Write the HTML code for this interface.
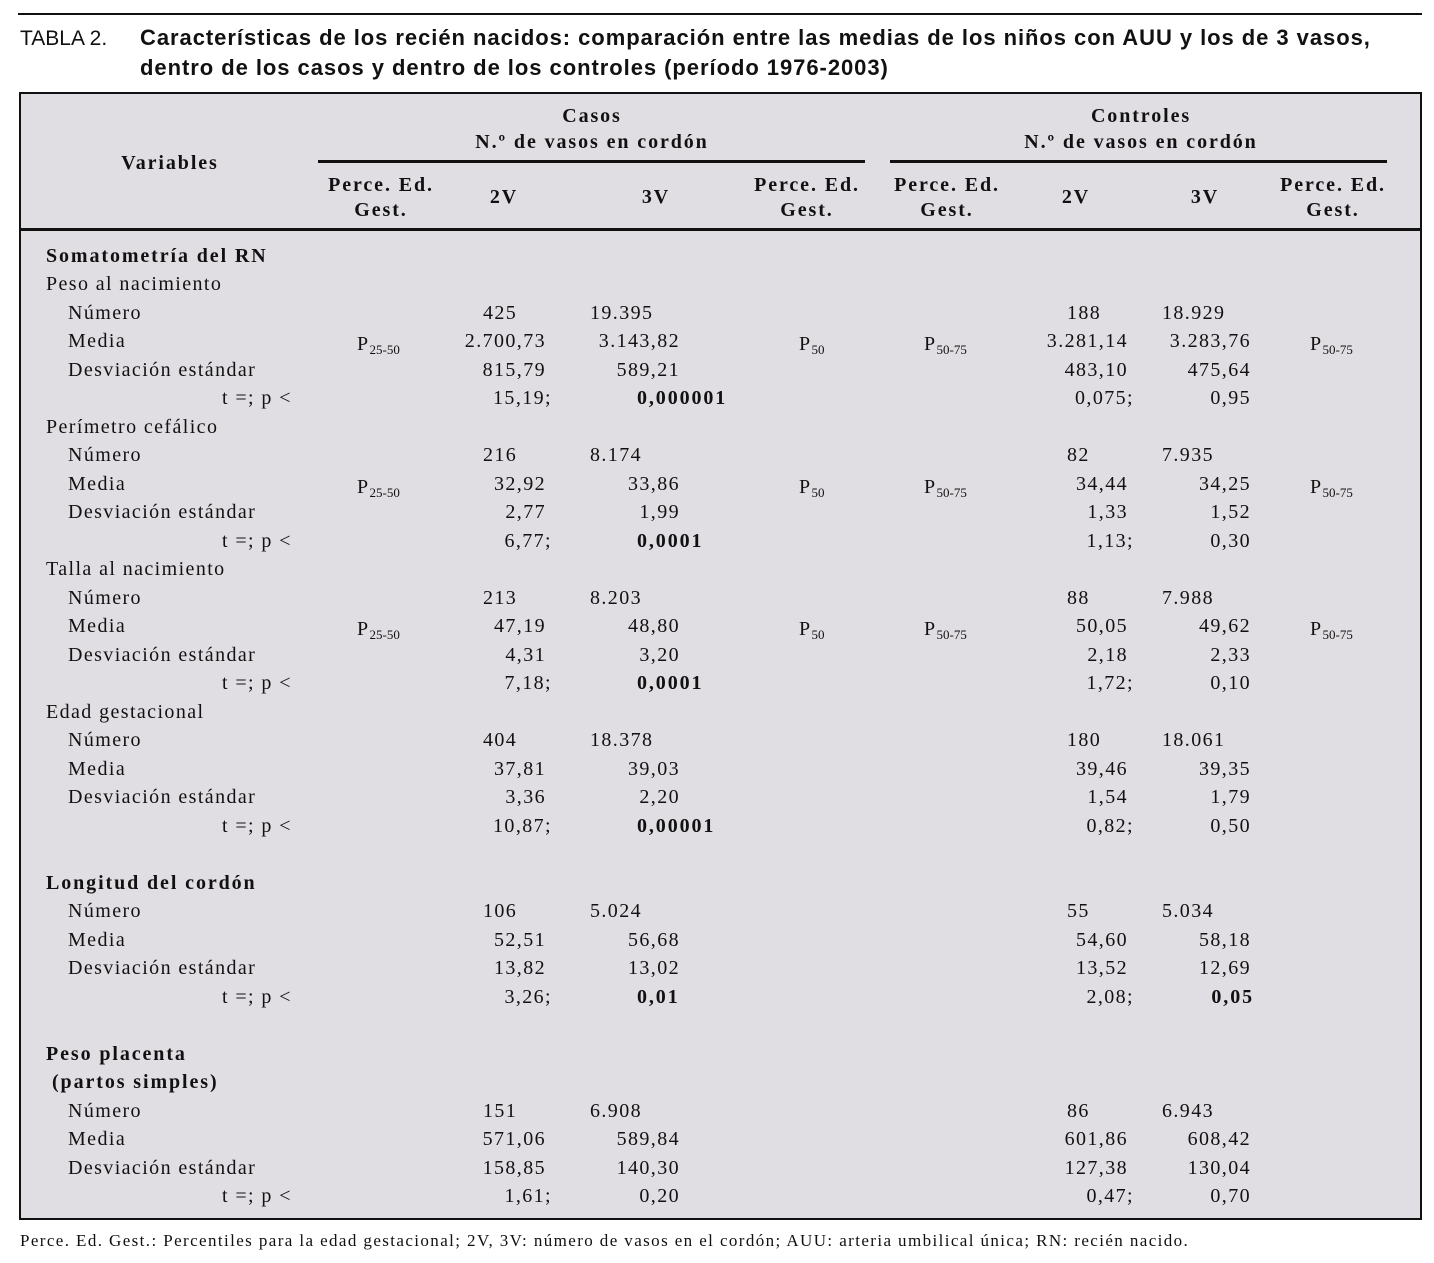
<!DOCTYPE html>
<html><head><meta charset="utf-8">
<style>
body{margin:0;width:1434px;height:1263px;background:#fff;position:relative;overflow:hidden;font-family:"Liberation Serif",serif;color:#111}
.t{position:absolute;white-space:nowrap;font-size:20px;line-height:24px;letter-spacing:1.4px}
.b{font-weight:bold;letter-spacing:1.9px}
.r{text-align:right}
.c{text-align:center}
sub{font-size:13px;vertical-align:-4px;letter-spacing:0}
</style></head><body>
<div style="position:absolute;left:18px;top:13px;width:1404px;height:2px;background:#111"></div>
<div class="t" style="left:20px;top:23px;font-family:'Liberation Sans',sans-serif;font-size:22px;line-height:30px;letter-spacing:0"><span style="font-size:21px">TABLA 2.</span><b style="position:absolute;left:120px;top:0;letter-spacing:0.95px">Características de los recién nacidos: comparación entre las medias de los niños con AUU y los de 3 vasos,</b><br><b style="position:absolute;left:120px;top:30px;letter-spacing:0.95px">dentro de los casos y dentro de los controles (período 1976-2003)</b></div>
<div style="position:absolute;left:19px;top:92px;width:1399px;height:1124px;border:2px solid #111;background:#e0dee2"></div>
<div style="position:absolute;left:21px;top:228px;width:1399px;height:3px;background:#111"></div>
<div style="position:absolute;left:318px;top:160px;width:547px;height:3px;background:#111"></div>
<div style="position:absolute;left:890px;top:160px;width:497px;height:3px;background:#111"></div>
<div class="t" style="left:20px;top:1229px;font-size:17px;letter-spacing:1.4px">Perce. Ed. Gest.: Percentiles para la edad gestacional; 2V, 3V: número de vasos en el cordón; AUU: arteria umbilical única; RN: recién nacido.</div>
<div id="tb"></div>
<script>
const tb=document.getElementById('tb');
function put(x,y,html,cls,name){
  const el=document.createElement('div');
  el.className='t '+(cls||'');
  el.innerHTML=html;
  
  
  el.style.top=(y-12)+'px';
  if((cls||'').includes('r')){el.style.right=(1434-x-1)+'px';}
  else if((cls||'').includes('c')){el.style.left=(x-150)+'px';el.style.width='300px';}
  else el.style.left=x+'px';
  tb.appendChild(el);
}
put(170,163,'Variables','b c','header-variables');
put(592,116,'Casos','b c','header-casos');
put(592,142,'N.º de vasos en cordón','b c','header-casos-sub');
put(1141,116,'Controles','b c','header-controles');
put(1141,142,'N.º de vasos en cordón','b c','header-controles-sub');
[[381,'perce'],[807,'perce'],[947,'perce'],[1333,'perce']].forEach(([x])=>{put(x,185,'Perce. Ed.','b c','header-perce');put(x,210,'Gest.','b c','header-gest');});
put(504,197,'2V','b c','header-2v-casos');put(656,197,'3V','b c','header-3v-casos');
put(1076,197,'2V','b c','header-2v-controles');put(1205,197,'3V','b c','header-3v-controles');

const labels=[["Somatometría del RN",0,1],["Peso al nacimiento",0,0],["Número",1],["Media",1],["Desviación estándar",1],["t =; p <",2],
["Perímetro cefálico",0,0],["Número",1],["Media",1],["Desviación estándar",1],["t =; p <",2],
["Talla al nacimiento",0,0],["Número",1],["Media",1],["Desviación estándar",1],["t =; p <",2],
["Edad gestacional",0,0],["Número",1],["Media",1],["Desviación estándar",1],["t =; p <",2],
["Longitud del cordón",0,1],["Número",1],["Media",1],["Desviación estándar",1],["t =; p <",2],
["Peso placenta",0,1],["(partos simples)",0.4,1],["Número",1],["Media",1],["Desviación estándar",1],["t =; p <",2]];
const ys=[256,284,313,341,370,398,427,455,484,512,541,569,598,626,655,683,712,740,769,797,826,883,911,940,968,997,1054,1082,1111,1139,1168,1196];
labels.forEach((l,i)=>{const x=l[1]==0?46:l[1]==2?222:l[1]==1?68:52;put(x,ys[i],l[0],l[2]?'b':'','row-label');});

function block(start,d){
  const y=i=>ys[start+i];
  put(483,y(0),d[0],'','casos-2v-numero');put(590,y(0),d[1],'','casos-3v-numero');
  put(545,y(1),d[2],'r','casos-2v-media');put(679,y(1),d[3],'r','casos-3v-media');
  put(545,y(2),d[4],'r','casos-2v-de');put(679,y(2),d[5],'r','casos-3v-de');
  put(551,y(3),d[6],'r','casos-2v-t');
  if(d[8])put(637,y(3),d[7],'b','casos-p');else put(679,y(3),d[7],'r','casos-p');
  put(1067,y(0),d[9],'','controles-2v-numero');put(1162,y(0),d[10],'','controles-3v-numero');
  put(1127,y(1),d[11],'r','controles-2v-media');put(1250,y(1),d[12],'r','controles-3v-media');
  put(1127,y(2),d[13],'r','controles-2v-de');put(1250,y(2),d[14],'r','controles-3v-de');
  put(1133,y(3),d[15],'r','controles-2v-t');
  put(d[17]?1253:1250,y(3),d[16],d[17]?'b r':'r','controles-p');
  if(d[18]){put(357,y(1)+3,'P<sub>25-50</sub>','','casos-perce-2v');put(799,y(1)+3,'P<sub>50</sub>','','casos-perce-3v');
    put(924,y(1)+3,'P<sub>50-75</sub>','','controles-perce-2v');put(1310,y(1)+3,'P<sub>50-75</sub>','','controles-perce-3v');}
}
block(2,['425','19.395','2.700,73','3.143,82','815,79','589,21','15,19;','0,000001',1,'188','18.929','3.281,14','3.283,76','483,10','475,64','0,075;','0,95',0,1]);
block(7,['216','8.174','32,92','33,86','2,77','1,99','6,77;','0,0001',1,'82','7.935','34,44','34,25','1,33','1,52','1,13;','0,30',0,1]);
block(12,['213','8.203','47,19','48,80','4,31','3,20','7,18;','0,0001',1,'88','7.988','50,05','49,62','2,18','2,33','1,72;','0,10',0,1]);
block(17,['404','18.378','37,81','39,03','3,36','2,20','10,87;','0,00001',1,'180','18.061','39,46','39,35','1,54','1,79','0,82;','0,50',0,0]);
block(22,['106','5.024','52,51','56,68','13,82','13,02','3,26;','0,01',1,'55','5.034','54,60','58,18','13,52','12,69','2,08;','0,05',1,0]);
block(28,['151','6.908','571,06','589,84','158,85','140,30','1,61;','0,20',0,'86','6.943','601,86','608,42','127,38','130,04','0,47;','0,70',0,0]);
</script>
</body></html>
